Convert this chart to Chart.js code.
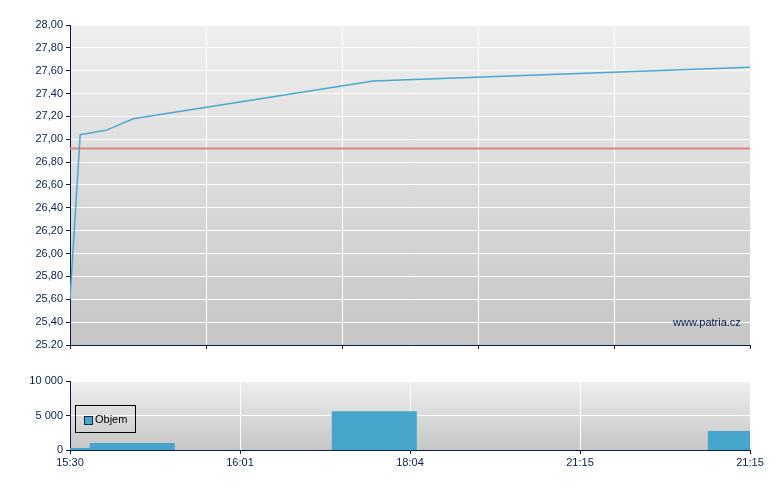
<!DOCTYPE html>
<html>
<head>
<meta charset="utf-8">
<script src="https://cdn.jsdelivr.net/npm/chart.js@4/dist/chart.umd.min.js"></script>
<style>
  body { margin: 0; background: #fff; }
  #wrap { position: relative; width: 780px; height: 490px; font-family: Arial, "Liberation Sans", sans-serif; }
  #priceBox { position: absolute; left: 0; top: 0; }
  #volBox { position: absolute; left: 0; top: 360px; }
  #legend { position: absolute; left: 75px; top: 405px; width: 59px; height: 26px; border: 1px solid #000; font-size: 11px; color: #000; }
  #legend span.sw { position: absolute; left: 8px; top: 10px; width: 7px; height: 7px; background: #47a5cc; border: 1px solid #1a2a3a; }
  #legend span.tx { position: absolute; left: 19px; top: 7px; }
  #mark { position: absolute; left: 673px; top: 316px; font-size: 11px; color: #0b1f4f; }
</style>
</head>
<body>
<div id="wrap">
  <canvas id="priceBox" width="780" height="360"></canvas>
  <canvas id="volBox" width="780" height="130"></canvas>
  <div id="legend"><span class="sw"></span><span class="tx">Objem</span></div>
  <div id="mark">www.patria.cz</div>
</div>
<script>
// horizontal position of each point on the 0..100 axis
const pricePos = [0, 1.5, 5.4, 9.3, 44.6, 100];
const priceVals = [25.60, 27.04, 27.08, 27.18, 27.51, 27.63];
const prevClose = 26.92;
const priceTickLabels = ['25.20', '25,40', '25,60', '25,80', '26,00', '26,20', '26,40', '26,60',
  '26,80', '27,00', '27,20', '27,40', '27,60', '27,80', '28,00'];

// volume steps: each value holds until the next position
const volPos = [0, 2.9, 15.4, 38.5, 51.0, 93.8, 100];
const volVals = [290, 1000, 0, 5630, 0, 2740, 2740];
const timeLabels = ['15:30', '16:01', '18:04', '21:15', '21:15'];

const navy = '#0b1f4f';
const font = { family: 'Arial, "Liberation Sans", sans-serif', size: 11 };

const plotBg = {
  id: 'plotBg',
  beforeDraw(chart) {
    const { ctx, chartArea: a } = chart;
    const g = ctx.createLinearGradient(0, a.top, 0, a.bottom);
    g.addColorStop(0, '#efefef');
    g.addColorStop(1, '#c6c6c6');
    ctx.save();
    ctx.fillStyle = g;
    ctx.fillRect(a.left, a.top, a.right - a.left, a.bottom - a.top);
    ctx.restore();
  }
};

new Chart(document.getElementById('priceBox'), {
  type: 'line',
  data: {
    datasets: [{
      data: pricePos.map((x, i) => ({ x: x, y: priceVals[i] })),
      borderColor: '#4aa8d0',
      borderWidth: 1.5,
      pointRadius: 0,
      tension: 0
    }, {
      data: [{ x: 0, y: prevClose }, { x: 100, y: prevClose }],
      borderColor: '#d98585',
      borderWidth: 2,
      pointRadius: 0
    }]
  },
  options: {
    responsive: false,
    animation: false,
    layout: { padding: { top: 25, right: 30, left: 0, bottom: 0 } },
    plugins: { legend: { display: false }, tooltip: { enabled: false } },
    scales: {
      x: {
        type: 'linear', min: 0, max: 100,
        ticks: { stepSize: 20, callback: () => '', color: navy, font: font },
        grid: { color: '#ffffff', tickColor: navy, tickLength: 4 },
        border: { color: navy, width: 1 },
        afterFit: s => { s.height = 15; }
      },
      y: {
        min: 25.2, max: 28,
        ticks: {
          stepSize: 0.2, color: navy, font: font, padding: 3,
          callback: v => priceTickLabels[Math.round((v - 25.2) / 0.2)]
        },
        grid: { color: '#ffffff', tickColor: navy, tickLength: 4 },
        border: { color: navy, width: 1 },
        afterFit: s => { s.width = 70; }
      }
    }
  },
  plugins: [plotBg]
});

new Chart(document.getElementById('volBox'), {
  type: 'line',
  data: {
    datasets: [{
      data: volPos.map((x, i) => ({ x: x, y: volVals[i] })),
      stepped: 'before',
      borderWidth: 0,
      borderColor: 'rgba(0,0,0,0)',
      backgroundColor: '#47a5cc',
      fill: 'origin',
      pointRadius: 0
    }]
  },
  options: {
    responsive: false,
    animation: false,
    layout: { padding: { top: 21, right: 30, left: 0, bottom: 0 } },
    plugins: { legend: { display: false }, tooltip: { enabled: false } },
    scales: {
      x: {
        type: 'linear', min: 0, max: 100,
        ticks: {
          stepSize: 25, color: navy, font: font, padding: 2, maxRotation: 0,
          callback: (v, i) => timeLabels[i]
        },
        grid: { color: '#ffffff', tickColor: navy, tickLength: 4 },
        border: { color: navy, width: 1 },
        afterFit: s => { s.height = 40; }
      },
      y: {
        min: 0, max: 10000,
        ticks: {
          stepSize: 5000, color: navy, font: font, padding: 3,
          callback: v => v.toLocaleString('en-US').replace(/,/g, ' ')
        },
        grid: { color: '#ffffff', tickColor: navy, tickLength: 4 },
        border: { color: navy, width: 1 },
        afterFit: s => { s.width = 70; }
      }
    }
  },
  plugins: [plotBg]
});
</script>
</body>
</html>
